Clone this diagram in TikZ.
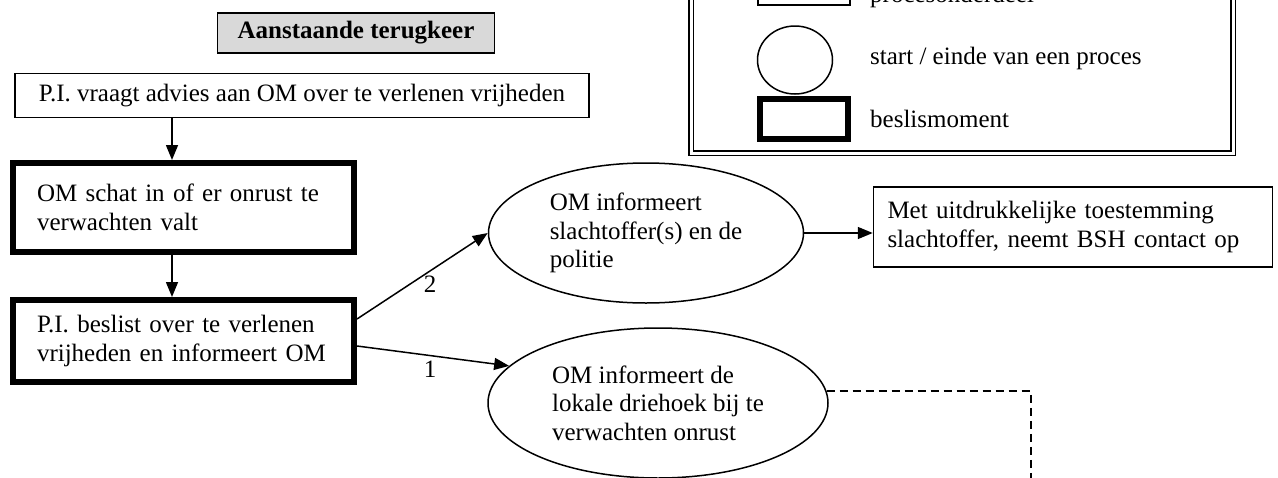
\documentclass[tikz,border=0pt]{standalone}
\usepackage{fontspec}
\setmainfont{Liberation Serif}
\usetikzlibrary{shapes.geometric,arrows.meta}

\tikzset{
  tekst/.style={font=\fontsize{25}{28.5}\selectfont},
  proces/.style={draw, line width=1.5pt, tekst, align=left, inner xsep=16pt, inner ysep=0pt},
  beslis/.style={proces, line width=6pt, inner xsep=24pt},
  startend/.style={draw, ellipse, line width=1.5pt, tekst, align=left, inner sep=0pt},
  kop/.style={draw, line width=1.5pt, fill=black!15, font=\fontsize{25}{28.5}\selectfont\bfseries},
  pijl/.style={line width=1.5pt, -{Triangle[length=15pt,width=12pt]}},
  stippel/.style={line width=1.5pt, dash pattern=on 8pt off 5pt},
}

\begin{document}
\begin{tikzpicture}[x=1pt,y=-1pt]

\useasboundingbox (0,0) rectangle (1278,477);
\clip (0,0) rectangle (1278,477);

% legenda
\draw[double, double distance=3pt, line width=1.3pt] (691,-20) rectangle (1233,153);
\node[proces, minimum width=92pt, minimum height=40pt] (lproces) at (804,-15) {};
\node[startend, minimum width=75pt, minimum height=68pt] (lstart) at (795,60) {};
\node[draw, line width=6pt, minimum width=88pt, minimum height=40pt] (lbeslis) at (804,119) {};
\node[tekst, anchor=west, inner sep=0pt] (tproces) at (870,-4) {procesonderdeel};
\node[tekst, anchor=west, inner sep=0pt] (tstart) at (870,58) {start / einde van een proces};
\node[tekst, anchor=west, inner sep=0pt] (tbeslis) at (870,119) {beslismoment};

\node[kop, minimum width=277pt, minimum height=40pt] (kop) at (356,33) {Aanstaande terugkeer};

\node[proces, minimum width=574pt, minimum height=44pt] (vraag) at (302,95.5)
  {P.I. vraagt advies aan OM over te verlenen vrijheden};
\node[beslis, text width=293pt, minimum height=89pt] (inschatting) at (183.5,207.5)
  {OM schat in of er onrust te\\verwachten valt};
\node[beslis, text width=293pt, minimum height=82pt] (beslissing) at (183.5,341)
  {P.I. beslist over te verlenen\\vrijheden en informeert OM};

\node[startend, minimum width=315pt, minimum height=140pt] (slachtoffer) at (646,233)
  {OM informeert\\slachtoffer(s) en de\\politie};
\node[startend, minimum width=340pt, minimum height=150pt] (driehoek) at (658,403)
  {OM informeert de\\lokale driehoek bij te\\verwachten onrust};
\node[proces, text width=371pt, minimum height=80pt, inner xsep=14pt] (bsh) at (1073,227)
  {Met uitdrukkelijke toestemming\\slachtoffer, neemt BSH contact op};

\coordinate (pijlx) at (172,0);
\coordinate (knik) at (1031,0);
\coordinate (uit) at (1031,490);

\draw[pijl] (vraag.south -| pijlx) -- (inschatting.north -| pijlx);
\draw[pijl] (inschatting.south -| pijlx) -- (beslissing.north -| pijlx);
\draw[pijl] ([yshift=22pt]beslissing.east) -- (slachtoffer.west)
  node[tekst, pos=0.56, below=4pt, inner sep=0pt] (twee) {2};
\draw[pijl] ([yshift=-5pt]beslissing.east) -- (driehoek.166)
  node[tekst, pos=0.48, below=5pt, inner sep=0pt] (een) {1};
\draw[pijl] (slachtoffer.east) -- (bsh.west |- slachtoffer.east);
\draw[stippel] (driehoek.4) -- (driehoek.4 -| knik) -- (uit);

\end{tikzpicture}
\end{document}
